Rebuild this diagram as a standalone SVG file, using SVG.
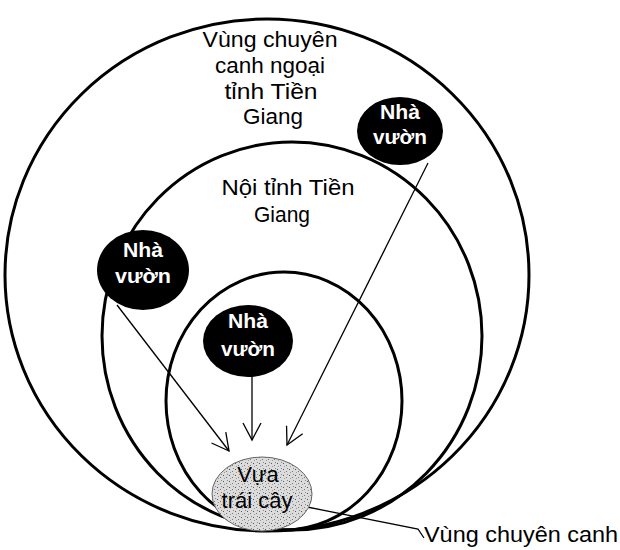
<svg xmlns="http://www.w3.org/2000/svg" width="620" height="550" viewBox="0 0 620 550">
<style>
.ring{fill:none;stroke:#000;stroke-width:3}
.lbl{font-family:"Liberation Sans",Arial,sans-serif;font-size:22px;fill:#000;text-anchor:middle}
.farm{fill:#000}
.ft{font-family:"Liberation Sans",Arial,sans-serif;font-size:20px;font-weight:bold;fill:#fff;text-anchor:middle}
.conn{fill:none;stroke:#000;stroke-width:1.3}
</style>
<defs>
<marker id="arr" markerUnits="userSpaceOnUse" markerWidth="40" markerHeight="40" viewBox="-20 -20 40 40" refX="0" refY="0" orient="auto">
<path d="M-17,-9 L0,0 L-17,9" fill="none" stroke="#000" stroke-width="1.3"/>
</marker>
<pattern id="speckle" width="6" height="6" patternUnits="userSpaceOnUse">
<rect width="6" height="6" fill="#dcdcdc"/>
<rect x="1" y="1" width="1" height="1" fill="#555"/>
<rect x="4" y="3" width="1" height="1" fill="#777"/>
<rect x="2" y="4" width="1" height="1" fill="#999"/>
<rect x="5" y="0" width="1" height="1" fill="#888"/>
</pattern>
</defs>
<rect width="620" height="550" fill="#fff"/>
<g id="outer-region">
<ellipse class="ring" cx="267" cy="275" rx="262" ry="256"/>
<text class="lbl" x="270" y="47" textLength="135" lengthAdjust="spacingAndGlyphs">Vùng chuyên</text>
<text class="lbl" x="270" y="73" textLength="110" lengthAdjust="spacingAndGlyphs">canh ngoại</text>
<text class="lbl" x="271" y="99" textLength="93" lengthAdjust="spacingAndGlyphs">tỉnh Tiền</text>
<text class="lbl" x="273" y="124" textLength="60" lengthAdjust="spacingAndGlyphs">Giang</text>
</g>
<g id="inner-province">
<ellipse class="ring" cx="292" cy="336" rx="190" ry="194"/>
<text class="lbl" x="288" y="195" textLength="133" lengthAdjust="spacingAndGlyphs">Nội tỉnh Tiền</text>
<text class="lbl" x="282" y="222" textLength="56" lengthAdjust="spacingAndGlyphs">Giang</text>
</g>
<g id="core-zone">
<ellipse class="ring" cx="284" cy="401" rx="118" ry="129" stroke-width="2.6"/>
</g>
<g id="connectors">
<line class="conn" x1="428" y1="163" x2="287" y2="445" marker-end="url(#arr)"/>
<line class="conn" x1="117" y1="305" x2="229" y2="451" marker-end="url(#arr)"/>
<line class="conn" x1="252" y1="377" x2="252" y2="440" marker-end="url(#arr)"/>
<polyline class="conn" points="307,507 418,529 424,538"/>
</g>
<g id="farm-outer">
<ellipse class="farm" cx="400" cy="131" rx="43" ry="34"/>
<text class="ft" x="400" y="119" textLength="40" lengthAdjust="spacingAndGlyphs">Nhà</text>
<text class="ft" x="400" y="144" textLength="54" lengthAdjust="spacingAndGlyphs">vườn</text>
</g>
<g id="farm-province">
<ellipse class="farm" cx="143" cy="270" rx="46" ry="40"/>
<text class="ft" x="143" y="257" textLength="40" lengthAdjust="spacingAndGlyphs">Nhà</text>
<text class="ft" x="143" y="283" textLength="56" lengthAdjust="spacingAndGlyphs">vườn</text>
</g>
<g id="farm-core">
<ellipse class="farm" cx="248" cy="341" rx="45" ry="36"/>
<text class="ft" x="248" y="328" textLength="40" lengthAdjust="spacingAndGlyphs">Nhà</text>
<text class="ft" x="248" y="356" textLength="54" lengthAdjust="spacingAndGlyphs">vườn</text>
</g>
<g id="vua-trai-cay">
<ellipse cx="262" cy="494" rx="50" ry="37" fill="url(#speckle)" stroke="#666" stroke-width="1"/>
<text class="lbl" x="258" y="482">Vựa</text>
<text class="lbl" x="257" y="508">trái cây</text>
</g>
<g id="zone-label">
<text class="lbl" x="424" y="542" style="text-anchor:start" textLength="194" lengthAdjust="spacingAndGlyphs">Vùng chuyên canh</text>
</g>
</svg>
